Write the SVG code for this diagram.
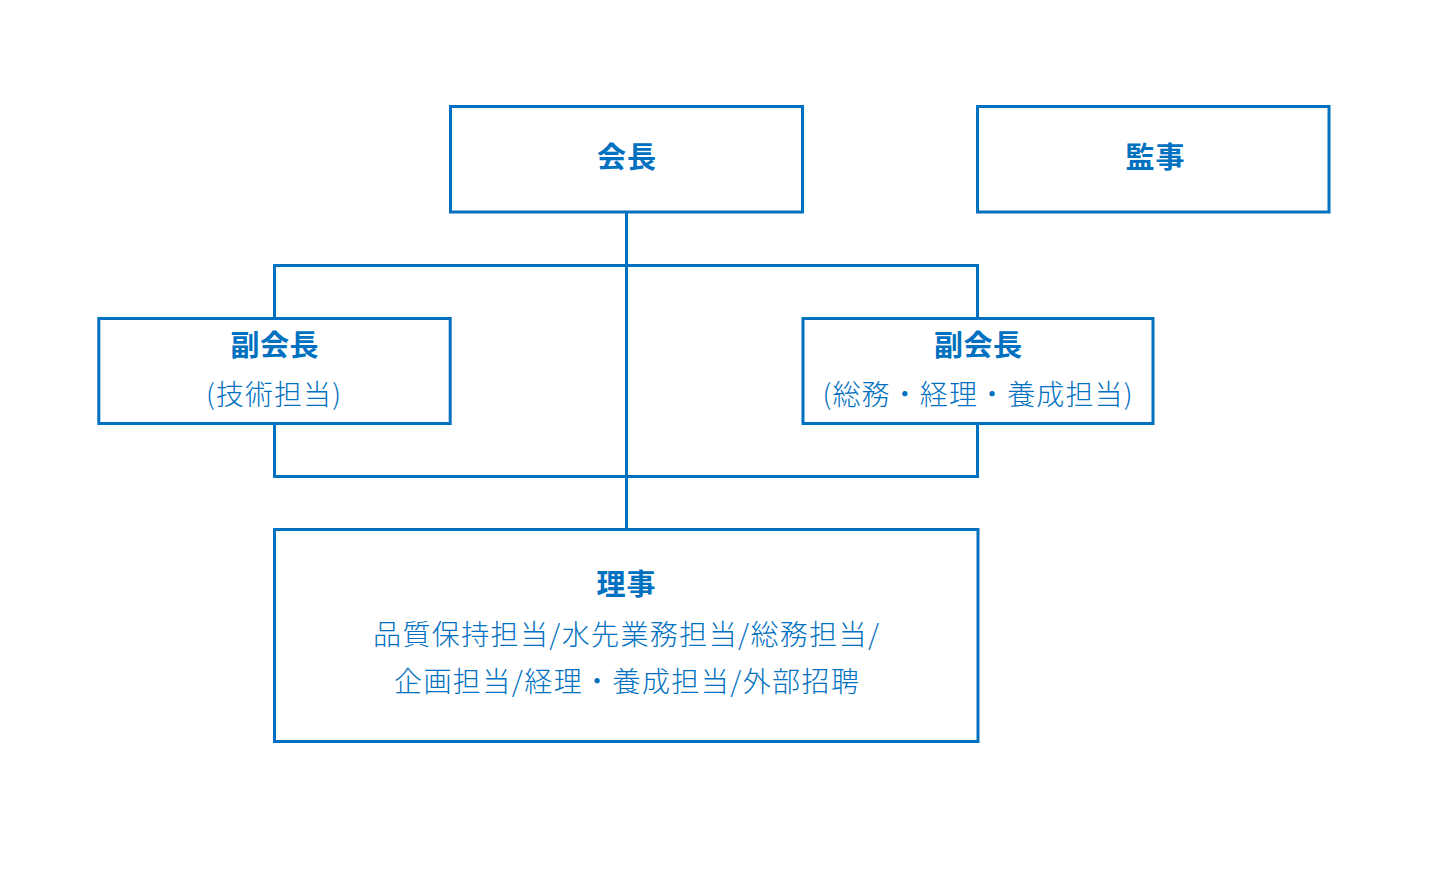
<svg xmlns="http://www.w3.org/2000/svg" width="1429" height="875" viewBox="0 0 1429 875">
<style>
.box{fill:#fff;stroke:#0070C0;stroke-width:3}
.ln{fill:none;stroke:#0070C0;stroke-width:3}
.t{font-family:"Noto Sans CJK JP","Noto Sans CJK SC",sans-serif;fill:#0070C0;text-anchor:middle}
.b{font-weight:700;font-size:29px}
.r{font-weight:300;font-size:28px}
</style>
<rect width="1429" height="875" fill="#fff"/>
<g id="connectors">
<path class="ln" d="M626.5 212V529"/>
<path class="ln" d="M274.5 318V265.5H977.5V318"/>
<path class="ln" d="M274.5 424V476.5H977.5V424"/>
</g>
<g id="kaicho">
<rect class="box" x="450.5" y="106.5" width="352" height="105.5"/>
<text class="t b" x="626.5" y="168" textLength="59" lengthAdjust="spacing">会長</text>
</g>
<g id="kanji">
<rect class="box" x="977.5" y="106.5" width="351.5" height="105.5"/>
<text class="t b" x="1155" y="168" textLength="59" lengthAdjust="spacing">監事</text>
</g>
<g id="fukukaicho1">
<rect class="box" x="98.8" y="318.5" width="351.4" height="105"/>
<text class="t b" x="274.5" y="355.5" textLength="88" lengthAdjust="spacing">副会長</text>
<text class="t r" x="273.5" y="404.5" textLength="135" lengthAdjust="spacing">(技術担当)</text>
</g>
<g id="fukukaicho2">
<rect class="box" x="803" y="318.5" width="350" height="105"/>
<text class="t b" x="978" y="355.5" textLength="88" lengthAdjust="spacing">副会長</text>
<text class="t r" x="977.5" y="404.5" textLength="310" lengthAdjust="spacing">(総務・経理・養成担当)</text>
</g>
<g id="riji">
<rect class="box" x="274.5" y="529.5" width="703.5" height="212"/>
<text class="t b" x="626" y="594.5" textLength="59" lengthAdjust="spacing">理事</text>
<text class="t r" x="626" y="644.5" textLength="506" lengthAdjust="spacing">品質保持担当/水先業務担当/総務担当/</text>
<text class="t r" x="626.5" y="691.5" textLength="465" lengthAdjust="spacing">企画担当/経理・養成担当/外部招聘</text>
</g>
</svg>
